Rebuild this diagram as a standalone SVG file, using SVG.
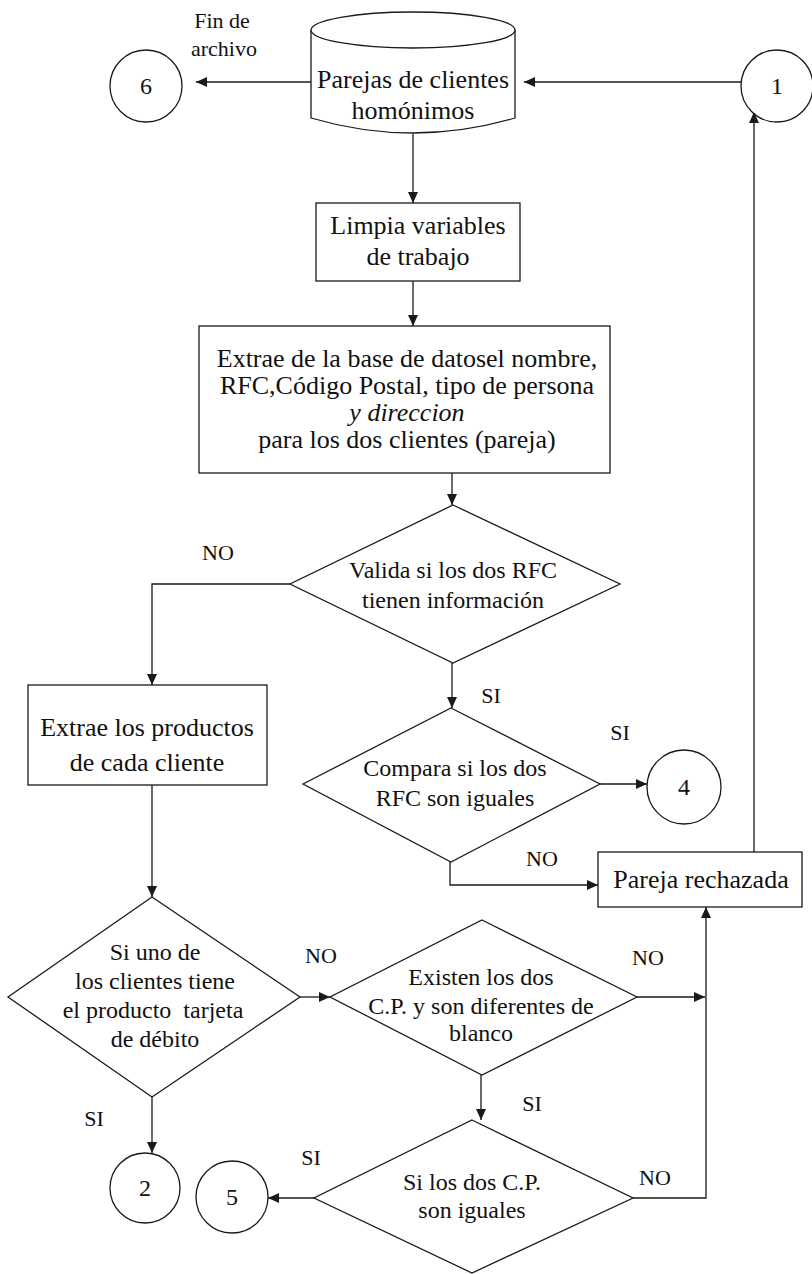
<svg xmlns="http://www.w3.org/2000/svg" width="812" height="1274" viewBox="0 0 812 1274">
  <style>
    .shape { fill: #ffffff; stroke: #1a1a1a; stroke-width: 1.3; }
    .conn { fill: none; stroke: #1a1a1a; stroke-width: 1.3; }
    text { font-family: "Liberation Serif", "Times New Roman", serif; fill: #111111; text-anchor: middle; }
    .t { font-size: 26px; }
    .d { font-size: 24px; }
    .lbl { font-size: 22px; }
  </style>
  <defs>
    <marker id="arrow" markerUnits="userSpaceOnUse" markerWidth="12" markerHeight="10" refX="11" refY="5" orient="auto">
      <path d="M0,0 L11,5 L0,10 z" fill="#1a1a1a"/>
    </marker>
  </defs>
  <rect width="812" height="1274" fill="#ffffff"/>

  <!-- connectors -->
  <g id="connectors">
    <line class="conn" x1="311" y1="82" x2="196" y2="82" marker-end="url(#arrow)"/>
    <line class="conn" x1="741" y1="82" x2="524" y2="82" marker-end="url(#arrow)"/>
    <line class="conn" x1="754" y1="852" x2="754" y2="112" marker-end="url(#arrow)"/>
    <line class="conn" x1="413" y1="134" x2="413" y2="203" marker-end="url(#arrow)"/>
    <line class="conn" x1="413" y1="281" x2="413" y2="326" marker-end="url(#arrow)"/>
    <line class="conn" x1="452" y1="473" x2="452" y2="505" marker-end="url(#arrow)"/>
    <polyline class="conn" points="290,584 152,584 152,685" marker-end="url(#arrow)"/>
    <line class="conn" x1="452" y1="663" x2="452" y2="708" marker-end="url(#arrow)"/>
    <line class="conn" x1="600" y1="784" x2="647" y2="784" marker-end="url(#arrow)"/>
    <polyline class="conn" points="450,862 450,885 598,885" marker-end="url(#arrow)"/>
    <line class="conn" x1="152" y1="785" x2="152" y2="897" marker-end="url(#arrow)"/>
    <line class="conn" x1="300" y1="997" x2="330" y2="997" marker-end="url(#arrow)"/>
    <line class="conn" x1="637" y1="997" x2="705" y2="997" marker-end="url(#arrow)"/>
    <polyline class="conn" points="633,1198 706,1198 706,907" marker-end="url(#arrow)"/>
    <line class="conn" x1="481" y1="1075" x2="481" y2="1120" marker-end="url(#arrow)"/>
    <line class="conn" x1="314" y1="1198" x2="268" y2="1198" marker-end="url(#arrow)"/>
    <line class="conn" x1="152" y1="1097" x2="152" y2="1153" marker-end="url(#arrow)"/>
  </g>

  <!-- branch labels -->
  <g id="labels" class="lbl">
    <text x="222" y="28">Fin de</text>
    <text x="224" y="56">archivo</text>
    <text x="218" y="560">NO</text>
    <text x="491" y="703">SI</text>
    <text x="620" y="740">SI</text>
    <text x="542" y="866">NO</text>
    <text x="321" y="963">NO</text>
    <text x="648" y="965">NO</text>
    <text x="532" y="1111">SI</text>
    <text x="94" y="1126">SI</text>
    <text x="311" y="1165">SI</text>
    <text x="655" y="1185">NO</text>
  </g>

  <!-- connector circles -->
  <g id="c6"><circle class="shape" cx="146" cy="86" r="36"/><text class="d" x="146" y="94">6</text></g>
  <g id="c1"><circle class="shape" cx="777" cy="86" r="36"/><text class="d" x="777" y="94">1</text></g>
  <g id="c4"><circle class="shape" cx="684" cy="787" r="37"/><text class="d" x="684" y="795">4</text></g>
  <g id="c2"><circle class="shape" cx="145" cy="1188" r="35"/><text class="d" x="145" y="1196">2</text></g>
  <g id="c5"><circle class="shape" cx="232" cy="1197" r="36"/><text class="d" x="232" y="1205">5</text></g>

  <!-- data store -->
  <g id="parejas">
    <path class="shape" d="M311,30 L311,118 Q413,148 515,118 L515,30"/>
    <ellipse class="shape" cx="413" cy="30" rx="102" ry="18"/>
    <text class="t" x="413" y="88" font-size="25">Parejas de clientes</text>
    <text class="t" x="413" y="119" font-size="25">homónimos</text>
  </g>

  <g id="limpia">
    <rect class="shape" x="316" y="203" width="204" height="78"/>
    <text class="t" x="418" y="234" font-size="26.5">Limpia variables</text>
    <text class="t" x="418" y="265" font-size="26.5">de trabajo</text>
  </g>

  <g id="extrae">
    <rect class="shape" x="199" y="326" width="411" height="147"/>
    <text class="t" x="407" y="367">Extrae de la base de datosel nombre,</text>
    <text class="t" x="407" y="394">RFC,Código Postal, tipo de persona</text>
    <text class="t" x="407" y="421" font-style="italic">y direccion</text>
    <text class="t" x="407" y="448">para los dos clientes (pareja)</text>
  </g>

  <g id="valida">
    <polygon class="shape" points="453,505 620,584 453,663 290,584"/>
    <text class="d" x="453" y="578">Valida si los dos RFC</text>
    <text class="d" x="453" y="608">tienen información</text>
  </g>

  <g id="productos">
    <rect class="shape" x="28" y="685" width="239" height="100"/>
    <text class="t" x="147" y="736" font-size="25">Extrae los productos</text>
    <text class="t" x="147" y="771" font-size="25">de cada cliente</text>
  </g>

  <g id="compara">
    <polygon class="shape" points="451,708 600,784 451,862 303,784"/>
    <text class="d" x="455" y="776" font-size="24.5">Compara si los dos</text>
    <text class="d" x="455" y="806" font-size="24.5">RFC son iguales</text>
  </g>

  <g id="rechazada">
    <rect class="shape" x="598" y="852" width="204" height="55"/>
    <text class="t" x="701" y="888" font-size="26.5">Pareja rechazada</text>
  </g>

  <g id="debito">
    <polygon class="shape" points="152,897 300,997 152,1097 8,997"/>
    <text class="d" x="155" y="960" font-size="25">Si uno de</text>
    <text class="d" x="155" y="989" font-size="25">los clientes tiene</text>
    <text class="d" x="153" y="1018" font-size="25" xml:space="preserve">el producto  tarjeta</text>
    <text class="d" x="155" y="1047" font-size="25">de débito</text>
  </g>

  <g id="existen">
    <polygon class="shape" points="482,920 637,997 482,1075 330,997"/>
    <text class="d" x="481" y="985">Existen los dos</text>
    <text class="d" x="481" y="1014" font-size="22.5">C.P. y son diferentes de</text>
    <text class="d" x="481" y="1041">blanco</text>
  </g>

  <g id="iguales">
    <polygon class="shape" points="472,1120 633,1198 472,1273 314,1198"/>
    <text class="d" x="472" y="1190">Si los dos C.P.</text>
    <text class="d" x="472" y="1218">son iguales</text>
  </g>
</svg>
